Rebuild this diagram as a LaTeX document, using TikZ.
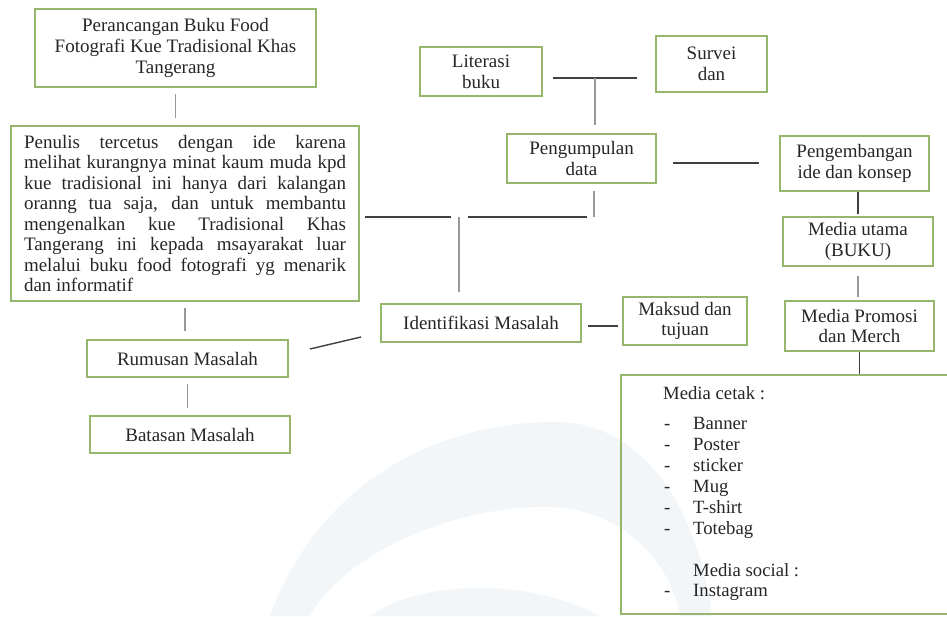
\documentclass[tikz,border=0pt]{standalone}
\usepackage{fontspec}
\setmainfont{Liberation Serif}
\definecolor{boxgreen}{RGB}{150,182,108}
\definecolor{wmark}{RGB}{243,246,249}
\tikzstyle{greenbox}=[rectangle, draw=boxgreen, line width=1.8pt, text=black!85, align=center, inner sep=0, font=\fontsize{19}{20.8}\selectfont]
\tikzstyle{graylink}=[draw=gray!80, line width=1.4pt]
\tikzstyle{blacklink}=[draw=black!75, line width=1.4pt]
\tikzstyle{listtext}=[anchor=base west, inner sep=0, text=black!85, font=\fontsize{18.7}{21}\selectfont]

\begin{document}
\begin{tikzpicture}[x=1pt,y=-1pt]
\useasboundingbox (0,0) rectangle (947,616);
% watermark in the background
\fill[wmark] (270,616) .. controls (320,480) and (440,422) .. (555,422) .. controls (650,422) and (700,520) .. (712,616) -- (680,616) .. controls (670,560) and (620,505) .. (540,507) .. controls (440,509) and (340,560) .. (310,616) -- cycle;
\fill[wmark] (370,616) .. controls (400,595) and (440,588) .. (480,588) .. controls (530,588) and (570,600) .. (600,616) -- cycle;

% left column
\node[greenbox, minimum width=281, minimum height=78] (judul) at (175.5,48) {Perancangan Buku Food\\Fotografi Kue Tradisional Khas\\Tangerang};
\node[greenbox, text width=322, align=justify, minimum width=348, minimum height=175, font=\fontsize{19}{20.5}\selectfont] (latar) at (185,213.5) {\hyphenpenalty=10000 Penulis tercetus dengan ide karena\linebreak melihat kurangnya minat kaum muda kpd\linebreak kue tradisional ini hanya dari kalangan\linebreak oranng tua saja, dan untuk membantu\linebreak mengenalkan kue Tradisional Khas\linebreak Tangerang ini kepada msayarakat luar\linebreak melalui buku food fotografi yg menarik\linebreak dan informatif};
\node[greenbox, minimum width=201, minimum height=37] (rumusan) at (187.5,358.5) {Rumusan Masalah};
\node[greenbox, minimum width=200, minimum height=37] (batasan) at (190,434.5) {Batasan Masalah};

% middle
\node[greenbox, minimum width=122, minimum height=49] (literasi) at (481,71.5) {Literasi\\buku};
\node[greenbox, minimum width=111, minimum height=56] (survei) at (711.5,64) {Survei\\dan};
\node[greenbox, minimum width=149, minimum height=49] (pengumpulan) at (581.5,158.5) {Pengumpulan\\data};
\node[greenbox, minimum width=200, minimum height=38] (identifikasi) at (481,323) {Identifikasi Masalah};
\node[greenbox, minimum width=124, minimum height=48] (maksud) at (685,321) {Maksud dan\\tujuan};

% right column
\node[greenbox, minimum width=149, minimum height=55] (pengembangan) at (854.5,163.5) {Pengembangan\\ide dan konsep};
\node[greenbox, minimum width=150, minimum height=49] (utama) at (858,241.5) {Media utama\\(BUKU)};
\node[greenbox, minimum width=149, minimum height=50] (promosi) at (859.5,326) {Media Promosi\\dan Merch};
\node[greenbox, minimum width=335, minimum height=239, anchor=north west] (media) at (620,374) {};

% list in the media box
\node[listtext] (cetak) at (663,399) {Media cetak :};
\foreach \teks [count=\i] in {Banner,Poster,sticker,Mug,T-shirt,Totebag}{
	\node[listtext] (strip\i) at (664,{408+21*\i}) {-};
	\node[listtext] (item\i) at (693,{408+21*\i}) {\teks};
}
\node[listtext] (sosial) at (693,576) {Media social :};
\node[listtext] (strip7) at (664,596) {-};
\node[listtext] (item7) at (693,596) {Instagram};

% connectors
\coordinate (cabang) at (595,78);
\coordinate (simpang) at (459,217);
\coordinate (atas) at (594,217);
\draw[graylink, shorten <=6, shorten >=7] (judul.south) -- (judul.south |- latar.north);
\draw[graylink, shorten <=6, shorten >=8] (latar.south) -- (latar.south |- rumusan.north);
\draw[graylink, shorten <=6, shorten >=7] (rumusan.south) -- (rumusan.south |- batasan.north);
\draw[blacklink] ([xshift=21,yshift=9.5]rumusan.east) -- ([xshift=-19,yshift=-14]identifikasi.west);
\draw[blacklink, shorten <=5, shorten >=8] (latar.east |- simpang) -- (simpang);
\draw[graylink, shorten >=11] (simpang) -- (simpang |- identifikasi.north);
\draw[blacklink, shorten <=9, shorten >=7] (simpang) -- (atas);
\draw[graylink, shorten <=7] (pengumpulan.south -| atas) -- (atas);
\draw[blacklink, shorten <=10] (literasi.east |- cabang) -- (cabang);
\draw[blacklink, shorten >=18] (cabang) -- (survei.west |- cabang);
\draw[graylink, shorten >=8] (cabang) -- (cabang |- pengumpulan.north);
\draw[blacklink] ([xshift=16,yshift=-4.5]pengumpulan.east) -- ([xshift=-20,yshift=0.5]pengembangan.west);
\draw[blacklink, shorten >=2] (utama.north |- pengembangan.south) -- (utama.north);
\draw[graylink, shorten <=9, shorten >=3] (utama.south) -- (utama.south |- promosi.north);
\draw[blacklink] (promosi.south) -- (promosi.south |- media.north);
\draw[blacklink] ([xshift=6,yshift=-3]identifikasi.east) -- ([xshift=-4,yshift=-5]maksud.west);
\end{tikzpicture}
\end{document}
